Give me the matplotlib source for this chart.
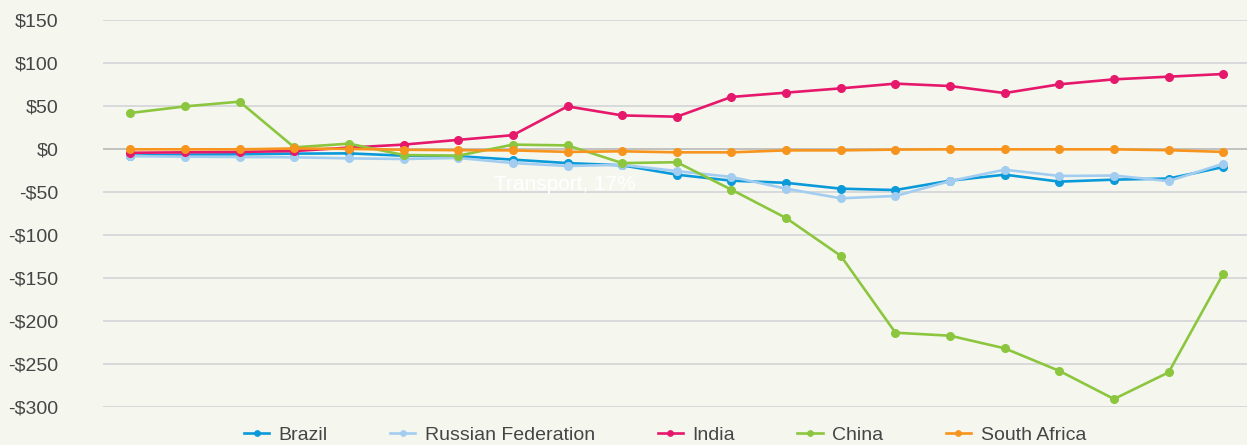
import matplotlib
matplotlib.use("Agg")
import matplotlib.pyplot as plt
import numpy as np

plt.rcParams['font.family'] = ['Liberation Sans', 'DejaVu Sans']

brazil = [-7.4, -6.2, -5.8, -5.0, -4.7, -7.4, -8.0, -12.0, -16.0, -18.6, -29.5,
          -36.5, -39.0, -45.8, -47.4, -36.5, -29.5, -37.6, -35.3, -34.0, -20.6]
russia = [-8.0, -8.5, -9.0, -9.3, -10.5, -11.3, -10.0, -16.0, -19.4, -18.0, -25.3,
          -32.2, -45.8, -57.0, -54.3, -37.0, -23.7, -31.0, -30.5, -37.0, -16.7]
india = [-4.0, -3.5, -3.0, -2.0, 2.0, 5.5, 11.0, 16.5, 50.0, 39.5, 38.0,
         61.0, 66.0, 71.0, 76.5, 73.7, 65.5, 75.7, 81.5, 84.6, 87.7]
china = [42.3, 50.0, 55.5, 2.3, 6.6, -6.6, -7.4, 5.5, 4.6, -16.0, -15.0,
         -47.0, -80.0, -124.0, -213.5, -217.0, -231.7, -258.0, -290.7, -259.6, -144.7]
south_africa = [0.0, 0.0, 0.0, 1.0, 0.5, -0.5, -1.0, -1.2, -3.0, -2.3, -3.5,
                -3.5, -1.2, -1.2, -0.3, 0.0, 0.0, 0.0, 0.0, -1.0, -3.0]

series_names = ["Brazil", "Russian Federation", "India", "China", "South Africa"]
series_values = [brazil, russia, india, china, south_africa]
colors = ["#0a9ad9", "#a3cdf0", "#e5186b", "#8cc63f", "#f7941d"]
yticks = [150, 100, 50, 0, -50, -100, -150, -200, -250, -300]
ytick_labels = ["$150", "$100", "$50", "$0", "-$50", "-$100", "-$150", "-$200", "-$250", "-$300"]
annotation = "Transport, 17%"

bg = "#f5f7ef"
W, H = 1247, 445
fig = plt.figure(figsize=(W / 100, H / 100), dpi=100, facecolor=bg)
ax = fig.add_axes([103 / W, 1 - 407 / H, (W - 103) / W, (407 - 20.5) / H])
ax.set_facecolor(bg)

x = np.arange(len(brazil))
for name, vals, c in zip(series_names, series_values, colors):
    ax.plot(x, vals, color=c, lw=1.9, marker='o', markersize=5.5,
            label=name, clip_on=False, solid_joinstyle='round')

ax.set_ylim(-300, 150)
ax.set_xlim(-0.5, -0.5 + (W - 103) / 54.65)
ax.set_yticks(yticks)
ax.set_yticklabels(ytick_labels)
ax.set_xticks([])
for v in yticks:
    ax.axhline(v, color="#b8b8b8" if v == 0 else "#d3d3d8", lw=1.2, zorder=0)
for s in ax.spines.values():
    s.set_visible(False)
ax.tick_params(axis='y', length=0, pad=32, labelsize=14, labelcolor="#454545")

fig.text(565 / W, 1 - 184 / H, annotation, color="white", fontsize=15,
         ha="center", va="center")

leg = fig.legend(loc="center", bbox_to_anchor=(665 / W, 1 - 435 / H), ncol=5,
                 frameon=False, fontsize=14, handlelength=1.3, handletextpad=0.5,
                 columnspacing=3.2, markerscale=0.7)
for t in leg.get_texts():
    t.set_color("#454545")

fig.savefig("out.png", dpi=100, facecolor=bg)
